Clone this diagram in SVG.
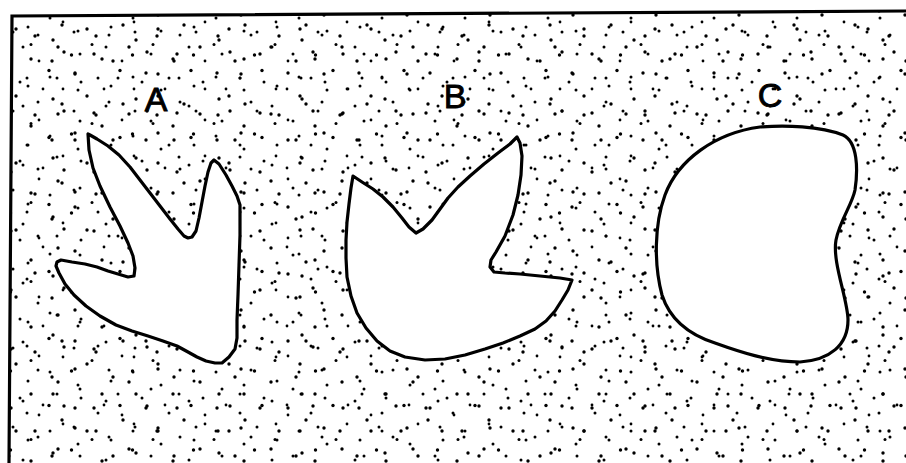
<svg xmlns="http://www.w3.org/2000/svg" width="906" height="463" viewBox="0 0 906 463">
  <style>
    .shape { fill: #ffffff; stroke: #000000; stroke-width: 3.2; stroke-linejoin: round; }
    .frame { fill: none; stroke: #000000; stroke-width: 3.2; stroke-linecap: square; }
    .label { font-family: "Liberation Sans", Arial, sans-serif; font-size: 34px; fill: #000000; stroke: #000000; stroke-width: 0.9; text-anchor: middle; }
    .d { fill: #000000; }
  </style>
  <defs>
    <pattern id="p1" width="71" height="67" patternUnits="userSpaceOnUse">
      <circle class="d" cx="4" cy="6" r="1.7"/>
      <circle class="d" cx="27" cy="11" r="1.5"/>
      <circle class="d" cx="49" cy="3.5" r="1.7"/>
      <circle class="d" cx="63" cy="22" r="1.4"/>
      <circle class="d" cx="16" cy="29" r="1.7"/>
      <circle class="d" cx="38" cy="35" r="1.5"/>
      <circle class="d" cx="58" cy="47" r="1.7"/>
      <circle class="d" cx="9" cy="54" r="1.5"/>
      <circle class="d" cx="31" cy="59" r="1.7"/>
    </pattern>
    <pattern id="p2" width="83" height="59" patternUnits="userSpaceOnUse" patternTransform="translate(17 23)">
      <circle class="d" cx="11" cy="4" r="1.5"/>
      <circle class="d" cx="36" cy="17" r="1.7"/>
      <circle class="d" cx="61" cy="8" r="1.5"/>
      <circle class="d" cx="77" cy="31" r="1.7"/>
      <circle class="d" cx="22" cy="38" r="1.4"/>
      <circle class="d" cx="47" cy="29" r="1.7"/>
      <circle class="d" cx="6" cy="24" r="1.5"/>
      <circle class="d" cx="58" cy="51" r="1.7"/>
      <circle class="d" cx="33" cy="54" r="1.5"/>
    </pattern>
    <pattern id="p3" width="61" height="79" patternUnits="userSpaceOnUse" patternTransform="translate(7 41)">
      <circle class="d" cx="3.5" cy="14" r="1.7"/>
      <circle class="d" cx="24" cy="3.5" r="1.5"/>
      <circle class="d" cx="45" cy="20" r="1.7"/>
      <circle class="d" cx="13" cy="41" r="1.5"/>
      <circle class="d" cx="36" cy="48" r="1.4"/>
      <circle class="d" cx="55" cy="63" r="1.7"/>
      <circle class="d" cx="6" cy="70" r="1.5"/>
      <circle class="d" cx="28" cy="74" r="1.7"/>
      <circle class="d" cx="50" cy="37" r="1.5"/>
    </pattern>
  </defs>
  <rect x="0" y="0" width="906" height="463" fill="#ffffff"/>
  <g id="stipple">
    <polygon points="12,16 906,11 906,463 9,463" fill="url(#p1)"/>
    <polygon points="12,16 906,11 906,463 9,463" fill="url(#p2)"/>
    <polygon points="12,16 906,11 906,463 9,463" fill="url(#p3)"/>
  </g>
  <g id="frame">
    <path class="frame" d="M906,11 L12,16 L9,463"/>
  </g>
  <g id="shape-A">
    <path class="shape" d="M88,134 L89,150 L93,168 L100,186 L110,207 L120,226 L128,243 L133,256 L135,268 L134,276 L128,277 L118,274 L108,271 L97,267 L85,264 L72,262 L61,260 L57,262 L56,266 L59,273 L65,284 L74,295 L86,306 L100,316 L116,325 L132,331 L148,336 L163,341 L177,346 L188,352 L197,357 L206,361 L215,363 L222,363 L229,357 L235,349 L237,338 L237,320 L238,295 L239,265 L240,235 L240,205 L237,196 L232,186 L226,175 L219,164 L214,160 L211,163 L208,172 L205,186 L202,202 L199,218 L196,231 L192,237 L188,238 L184,236 L178,229 L170,219 L160,206 L150,193 L140,180 L130,167 L119,155 L108,146 L97,139 L90,135 Z"/>
    <text class="label" x="156" y="111">A</text>
  </g>
  <g id="shape-B">
    <path class="shape" d="M353,176 L362,182 L373,189 L383,197 L393,207 L402,218 L409,227 L416,233 L423,229 L432,220 L440,209 L448,198 L458,187 L470,176 L484,164 L498,153 L510,144 L517,137 L520,143 L522,156 L521,175 L518,195 L513,215 L505,236 L496,252 L491,260 L490,267 L494,272 L505,273 L520,274 L540,276 L560,278 L572,280 L568,290 L562,300 L555,311 L546,321 L535,329 L520,336 L503,343 L485,349 L465,355 L445,359 L425,360 L405,357 L390,351 L377,341 L366,328 L357,313 L351,296 L347,277 L346,258 L346,240 L347,222 L349,204 L351,188 Z"/>
    <text class="label" x="455" y="108">B</text>
  </g>
  <g id="shape-C">
    <path class="shape" d="M760,127 C785,125 820,126 843,135 C858,142 858,170 855,190 C852,205 840,220 836,240 C832,262 848,300 848,320 C848,345 830,360 800,362 C770,362 740,352 715,343 C690,335 670,320 662,295 C654,265 654,225 665,195 C678,160 715,133 760,127 Z"/>
    <text class="label" x="770" y="107">C</text>
  </g>
</svg>
